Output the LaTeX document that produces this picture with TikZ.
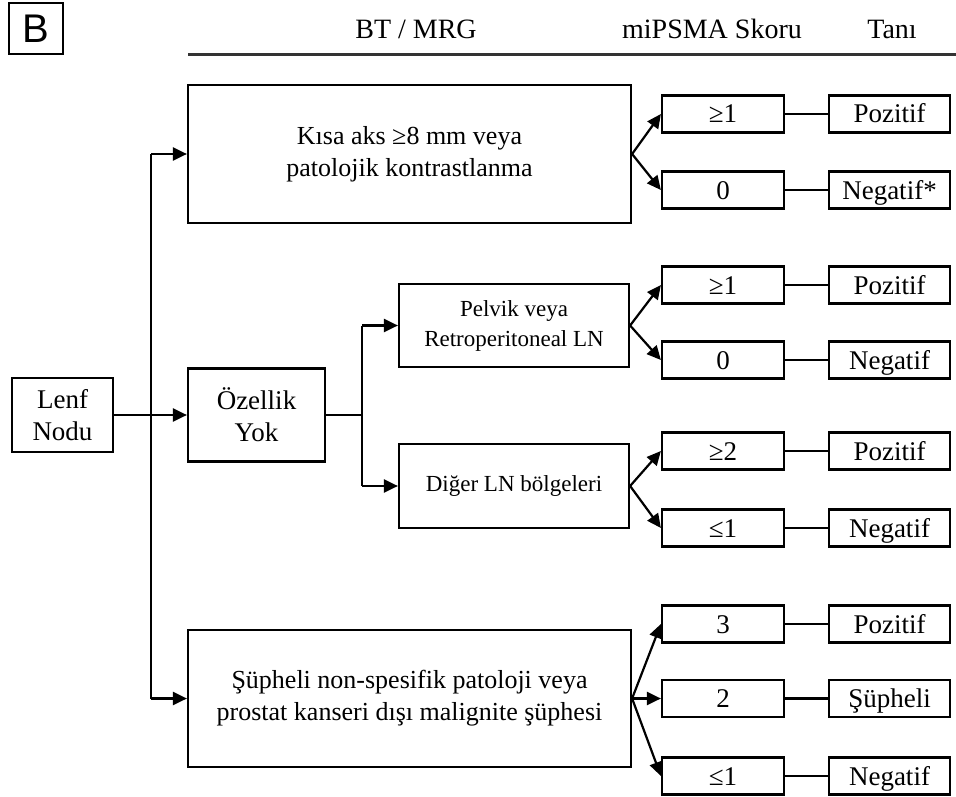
\documentclass[tikz,border=0pt]{standalone}
\usepackage{fontspec}
\setmainfont{Liberation Serif}
\newfontfamily\panelfont{Liberation Sans}
\usetikzlibrary{arrows.meta}

\begin{document}
\begin{tikzpicture}[x=1pt, y=-1pt, align=center, line width=2.2pt,
  box/.style={draw, inner sep=0pt, font=\fontsize{27}{32}\selectfont},
  bigbox/.style={box, minimum width=443pt, minimum height=137pt, font=\fontsize{26}{32}\selectfont},
  midbox/.style={box, minimum width=230pt, minimum height=83pt, font=\fontsize{23}{30}\selectfont},
  scorebox/.style={box, minimum width=122pt, minimum height=37pt, text height=18pt, text depth=0pt},
  resultbox/.style={box, minimum width=121pt, minimum height=37pt, text height=18pt, text depth=0pt},
  head/.style={font=\fontsize{28}{32}\selectfont},
  arr/.style={-{Triangle[length=14pt, width=13pt]}}]

\useasboundingbox (0, 0) rectangle (956, 797);

\node[draw, inner sep=0pt, minimum width=54pt, minimum height=51pt, font=\panelfont\fontsize{40}{40}\selectfont] (panel) at (36, 28.5) {B};

\node[head] (hct) at (416, 29) {BT / MRG};
\node[head] (hscore) at (712, 29) {miPSMA Skoru};
\node[head] (htani) at (892, 29) {Tanı};
\coordinate (hlstart) at (188, 55);
\coordinate (hlend) at (956, 55);
\draw[line width=3pt, black!80] (hlstart) -- (hlend);

\node[box, minimum width=101pt, minimum height=74pt] (lenf) at (62.5, 415) {Lenf\\Nodu};
\node[box, minimum width=137pt, minimum height=93pt] (ozellik) at (256.5, 415) {Özellik\\Yok};
\node[bigbox, minimum height=138pt] (kisa) at (409.5, 154) {Kısa aks ≥8 mm veya\\patolojik kontrastlanma};
\node[midbox] (pelvik) at (514, 325.5) {Pelvik veya\\Retroperitoneal LN};
\node[midbox, minimum height=84pt] (diger) at (514, 486) {Diğer LN bölgeleri};
\node[bigbox] (supheli) at (409.5, 698.5) {Şüpheli non-spesifik patoloji veya\\prostat kanseri dışı malignite şüphesi};

\node[scorebox] (skisa1) at (723, 114) {≥1};
\node[scorebox] (skisa0) at (723, 190) {0};
\node[scorebox] (spelvik1) at (723, 285) {≥1};
\node[scorebox] (spelvik0) at (723, 360) {0};
\node[scorebox] (sdiger2) at (723, 451) {≥2};
\node[scorebox] (sdiger1) at (723, 528) {≤1};
\node[scorebox] (ssup3) at (723, 624) {3};
\node[scorebox] (ssup2) at (723, 698.5) {2};
\node[scorebox] (ssup1) at (723, 776) {≤1};

\node[resultbox] (rkisa1) at (889.5, 114) {Pozitif};
\node[resultbox] (rkisa0) at (889.5, 190) {Negatif*};
\node[resultbox] (rpelvik1) at (889.5, 285) {Pozitif};
\node[resultbox] (rpelvik0) at (889.5, 360) {Negatif};
\node[resultbox] (rdiger2) at (889.5, 451) {Pozitif};
\node[resultbox] (rdiger1) at (889.5, 528) {Negatif};
\node[resultbox] (rsup3) at (889.5, 624) {Pozitif};
\node[resultbox] (rsup2) at (889.5, 698.5) {Şüpheli};
\node[resultbox] (rsup1) at (889.5, 776) {Negatif};

\coordinate (lenftop) at (151, 154);
\coordinate (lenfbot) at (151, 698.5);
\coordinate (oztop) at (362, 325.5);
\coordinate (ozmid) at (362, 415);
\coordinate (ozbot) at (362, 486);

\draw[arr] (lenf) -- (ozellik);
\draw (lenftop) -- (lenfbot);
\draw[arr] (lenftop) -- (kisa);
\draw[arr] (lenfbot) -- (supheli);

\draw (ozellik) -- (ozmid);
\draw (oztop) -- (ozbot);
\draw[arr] (oztop) -- (pelvik);
\draw[arr] (ozbot) -- (diger);

\draw[arr] (kisa.east) -- (skisa1.west);
\draw[arr] (kisa.east) -- (skisa0.west);
\draw[arr] (pelvik.east) -- (spelvik1.west);
\draw[arr] (pelvik.east) -- (spelvik0.west);
\draw[arr] (diger.east) -- (sdiger2.west);
\draw[arr] (diger.east) -- (sdiger1.west);
\draw[arr] (supheli.east) -- (ssup3.west);
\draw[arr] (supheli.east) -- (ssup2.west);
\draw[arr] (supheli.east) -- (ssup1.west);

\draw (skisa1) -- (rkisa1);
\draw (skisa0) -- (rkisa0);
\draw (spelvik1) -- (rpelvik1);
\draw (spelvik0) -- (rpelvik0);
\draw (sdiger2) -- (rdiger2);
\draw (sdiger1) -- (rdiger1);
\draw (ssup3) -- (rsup3);
\draw (ssup2) -- (rsup2);
\draw (ssup1) -- (rsup1);

\end{tikzpicture}
\end{document}
